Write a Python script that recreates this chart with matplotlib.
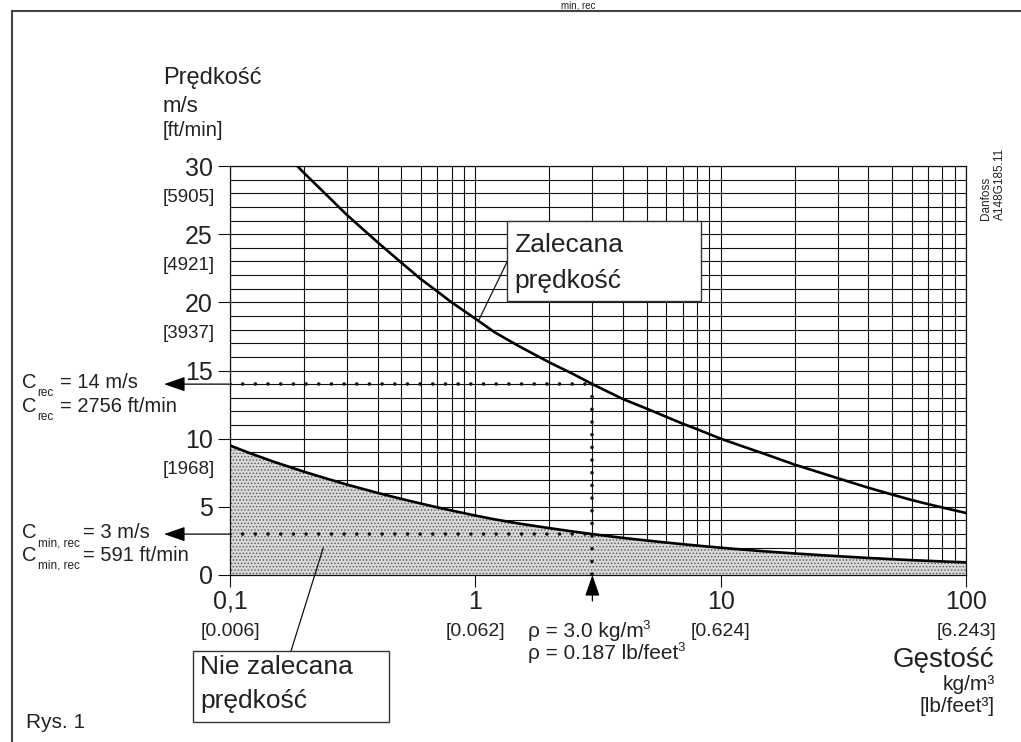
import matplotlib
matplotlib.use('Agg')
import matplotlib.pyplot as plt
from matplotlib.lines import Line2D
from matplotlib.patches import Rectangle
from matplotlib.transforms import offset_copy, blended_transform_factory

plt.rcParams['font.family'] = ['Liberation Sans', 'DejaVu Sans']
plt.rcParams['hatch.linewidth'] = 0.6

# ---------------- data ----------------
rho_rec = [0.188, 0.2, 0.25, 0.3, 0.4, 0.5, 0.6, 0.7, 0.8, 1, 1.2, 1.5, 2, 2.5, 3,
           4, 5, 6, 7, 8, 10, 12, 15, 20, 25, 30, 40, 50, 60, 70, 80, 100]
c_rec = [30.0, 29.5, 27.8, 26.4, 24.4, 22.9, 21.7, 20.8, 20.0, 18.8, 17.8, 16.8, 15.6,
         14.75, 14.0, 12.9, 12.2, 11.6, 11.1, 10.7, 10.0, 9.5, 8.9, 8.1, 7.55, 7.1,
         6.4, 5.9, 5.5, 5.2, 4.95, 4.55]

rho_min = [0.1, 0.12, 0.15, 0.2, 0.25, 0.3, 0.4, 0.5, 0.6, 0.7, 0.8, 1, 1.2, 1.5, 2,
           2.5, 3, 4, 5, 6, 7, 8, 10, 12, 15, 20, 25, 30, 40, 50, 60, 70, 80, 100]
c_min = [9.5, 8.95, 8.32, 7.58, 7.05, 6.63, 6.02, 5.58, 5.24, 4.96, 4.73, 4.36, 4.08,
         3.78, 3.44, 3.19, 3.0, 2.72, 2.53, 2.38, 2.26, 2.16, 2.0, 1.88, 1.74, 1.58,
         1.47, 1.38, 1.25, 1.16, 1.09, 1.04, 0.995, 0.925]

x_major = [0.1, 1, 10, 100]
x_major_labels = ['0,1', '1', '10', '100']
x_sub_labels = ['[0.006]', '[0.062]', '[0.624]', '[6.243]']
x_minor = [m * d for d in (0.1, 1, 10) for m in range(2, 10)]

y_major = [0, 5, 10, 15, 20, 25, 30]
y_major_labels = ['0', '5', '10', '15', '20', '25', '30']
y_sub_vals = [30, 25, 20, 10]
y_sub_labels = ['[5905]', '[4921]', '[3937]', '[1968]']
y_minor = list(range(0, 31))

rho_sel = 3.0
c_sel_rec = 14
c_sel_min = 3

TXT = '#222222'
W, H = 1021, 742

fig = plt.figure(figsize=(W / 100, H / 100), dpi=100)
ax = fig.add_axes([230 / W, (H - 575) / H, 736 / W, 409 / H])
ax.set_xscale('log')
ax.set_xlim(0.1, 100)
ax.set_ylim(0, 30)

# grid
ax.set_xticks(x_major)
ax.set_xticklabels(x_major_labels)
ax.set_xticks(x_minor, minor=True)
ax.set_yticks(y_major)
ax.set_yticklabels(y_major_labels)
ax.set_yticks(y_minor, minor=True)
ax.grid(which='both', color='#111111', lw=0.8)
ax.set_axisbelow(True)
ax.tick_params(which='minor', length=0)
ax.tick_params(which='major', length=8.6, width=0.8, color='#111111',
               labelsize=18, labelcolor=TXT)
ax.tick_params(axis='y', pad=4)
ax.tick_params(axis='x', pad=2)
for s in ax.spines.values():
    s.set_linewidth(0.9)
    s.set_color('#111111')

# shaded not-recommended area
ax.fill_between(rho_min, 0, c_min, facecolor='#d8d8d8', edgecolor='#555555',
                hatch='.....', linewidth=0, zorder=1.5)

# curves
ax.plot(rho_rec, c_rec, color='black', lw=1.9, zorder=4)
ax.plot(rho_min, c_min, color='black', lw=1.9, zorder=4)

# dotted guide lines
dot = dict(color='#111111', lw=2.6, linestyle=(0, (0.01, 3.5)),
           dash_capstyle='round', zorder=5)
ax.plot([0.1, rho_sel], [c_sel_rec, c_sel_rec], **dot)
ax.plot([0.1, rho_sel], [c_sel_min, c_sel_min], **dot)
ax.plot([rho_sel, rho_sel], [c_sel_rec, 0], **dot)

# arrows
ap = dict(arrowstyle='-|>,head_length=1.3,head_width=0.45', color='black',
          lw=0.9, shrinkA=0, shrinkB=0)
for cv in (c_sel_rec, c_sel_min):
    ax.annotate('', xy=(-66 / 736, cv), xycoords=('axes fraction', 'data'),
                xytext=(0, cv), textcoords=('axes fraction', 'data'),
                arrowprops=ap, annotation_clip=False)
ax.annotate('', xy=(rho_sel, 0), xycoords='data',
            xytext=(rho_sel, -26 / 409), textcoords=('data', 'axes fraction'),
            arrowprops=ap, annotation_clip=False)

# sub labels
ty = offset_copy(blended_transform_factory(ax.transAxes, ax.transData), fig,
                 x=-15, y=-31, units='dots')
for v, lab in zip(y_sub_vals, y_sub_labels):
    ax.text(0, v, lab, transform=ty, ha='right', va='center', fontsize=13.5,
            color=TXT)
tx = offset_copy(blended_transform_factory(ax.transData, ax.transAxes), fig,
                 x=0, y=-56, units='dots')
for v, lab in zip(x_major, x_sub_labels):
    ax.text(v, 0, lab, transform=tx, ha='center', va='center', fontsize=14,
            color=TXT)


def ftext(x, y, s, **kw):
    kw.setdefault('color', TXT)
    return fig.text(x / W, 1 - y / H, s, **kw)


renderer = fig.canvas.get_renderer()


def rich(x, y, parts):
    """parts: (text, fontsize, baseline drop in px, gap before in px)"""
    cx = x
    for s, size, dy, gap in parts:
        cx += gap
        t = ftext(cx, y + dy, s, fontsize=size, ha='left', va='baseline')
        cx = t.get_window_extent(renderer=renderer).x1


# axis titles
ftext(163, 78, 'Prędkość', fontsize=17, ha='left', va='center')
ftext(163, 107, 'm/s', fontsize=16, ha='left', va='center')
ftext(163, 131, '[ft/min]', fontsize=14.5, ha='left', va='center')
ftext(994, 660, 'Gęstość', fontsize=20, ha='right', va='center')
ftext(995, 685, 'kg/m³', fontsize=15, ha='right', va='center')
ftext(995, 706, '[lb/feet³]', fontsize=15, ha='right', va='center')

# left annotations
rich(22, 388, [('C', 14.5, 0, 0), ('rec', 8.5, 8, 1), ('= 14 m/s', 14.5, 0, 6)])
rich(22, 412, [('C', 14.5, 0, 0), ('rec', 8.5, 8, 1), ('= 2756 ft/min', 14.5, 0, 6)])
rich(22, 538, [('C', 14.5, 0, 0), ('min, rec', 8.5, 8, 1), ('= 3 m/s', 14.5, 0, 4)])
rich(22, 561, [('C', 14.5, 0, 0), ('min, rec', 8.5, 8, 1), ('= 591 ft/min', 14.5, 0, 4)])

# rho annotation
rich(528, 637, [('ρ = 3.0 kg/m', 15, 0, 0), ('3', 9.5, -8, -1)])
rich(528, 659, [('ρ = 0.187 lb/feet', 15, 0, 0), ('3', 9.5, -8, -1)])

# boxes
fig.add_artist(Rectangle((507 / W, 1 - 301 / H), 194 / W, 80 / H,
                         transform=fig.transFigure, facecolor='white',
                         edgecolor='#333333', lw=1.0, zorder=6))
ftext(514, 245, 'Zalecana', fontsize=19, ha='left', va='center', zorder=7)
ftext(514, 281, 'prędkość', fontsize=19, ha='left', va='center', zorder=7)
ax.annotate('', xy=(1.03, 18.65), xycoords='data',
            xytext=(507, H - 262), textcoords='figure pixels',
            arrowprops=dict(arrowstyle='-', lw=0.9, color='#111111',
                            shrinkA=0, shrinkB=0), annotation_clip=False)

fig.add_artist(Rectangle((193 / W, 1 - 722 / H), 196 / W, 71 / H,
                         transform=fig.transFigure, facecolor='white',
                         edgecolor='#333333', lw=1.0, zorder=6))
ftext(200, 667, 'Nie zalecana', fontsize=19, ha='left', va='center', zorder=7)
ftext(200, 701, 'prędkość', fontsize=19, ha='left', va='center', zorder=7)
ax.annotate('', xy=(0.24, 2.0), xycoords='data',
            xytext=(291, H - 651), textcoords='figure pixels',
            arrowprops=dict(arrowstyle='-', lw=0.9, color='#111111',
                            shrinkA=0, shrinkB=0), annotation_clip=False)

# misc text
ftext(26, 722, 'Rys. 1', fontsize=15, ha='left', va='center')
ftext(993, 220, 'Danfoss\nA148G185.11', fontsize=8.5, rotation=90,
      ha='center', va='bottom', multialignment='left', linespacing=1.15)
ftext(578, 1, 'min, rec', fontsize=7, ha='center', va='top')

# frame
fig.add_artist(Line2D([12 / W, 12 / W], [0, 1 - 11 / H], color='#444444', lw=1.5,
                      transform=fig.transFigure))
fig.add_artist(Line2D([12 / W, 1], [1 - 11 / H, 1 - 11 / H], color='#444444', lw=1.5,
                      transform=fig.transFigure))

fig.savefig('out.png', dpi=100, facecolor='white')
